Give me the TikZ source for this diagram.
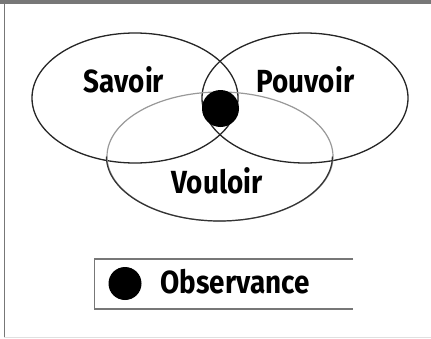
\documentclass[tikz,border=0pt]{standalone}
\usepackage{fontspec}
\setmainfont{Fira Sans}[FakeStretch=0.87]
\usetikzlibrary{shapes.geometric}
\definecolor{framegray}{HTML}{777777}
\definecolor{lightline}{HTML}{999999}
\tikzset{
  set/.style={draw=black!85, line width=1.3pt, ellipse, inner sep=0pt},
  lbl/.style={font=\fontsize{32}{36}\selectfont\bfseries, anchor=base, inner sep=0pt},
  dot/.style={circle, fill=black, inner sep=0pt},
}
\begin{document}
\begin{tikzpicture}[x=1pt,y=-1pt]
  \useasboundingbox (0,0) rectangle (431,338);
  \fill[white] (0,0) rectangle (431,338);
  % frame
  \fill[framegray] (0,0) rectangle (431,3.5);
  \draw[framegray, line width=1.4pt] (4.3,0) -- (4.3,338);
  \draw[black!12, line width=0.8pt] (4.3,337.4) -- (431,337.4);
  % sets
  \node[set, minimum width=206pt, minimum height=130pt] (sav) at (135,98) {};
  \node[set, minimum width=206pt, minimum height=130pt] (pou) at (305,98) {};
  \node[set, draw=lightline, line width=1.2pt, minimum width=226pt, minimum height=129pt] (vou) at (220,156.5) {};
  \draw[black!80, line width=1.2pt] (vou.west) arc[start angle=180, end angle=360, x radius=113pt, y radius=64.5pt];
  % centre dot
  \node[dot, minimum size=37pt] (obs) at (220.5,108.5) {};
  % labels
  \node[lbl] (tsav) at (124,92) {Savoir};
  \node[lbl] (tpou) at (305.5,92) {Pouvoir};
  \node[lbl] (tvou) at (217,193) {Vouloir};
  % legend
  \draw[framegray, line width=1.4pt] (353,259) -- (94.5,259) -- (94.5,309) -- (353,309);
  \node[dot, minimum size=33pt] (ldot) at (125,283.5) {};
  \node[lbl] (tobs) at (235,293) {Observance};
\end{tikzpicture}
\end{document}
